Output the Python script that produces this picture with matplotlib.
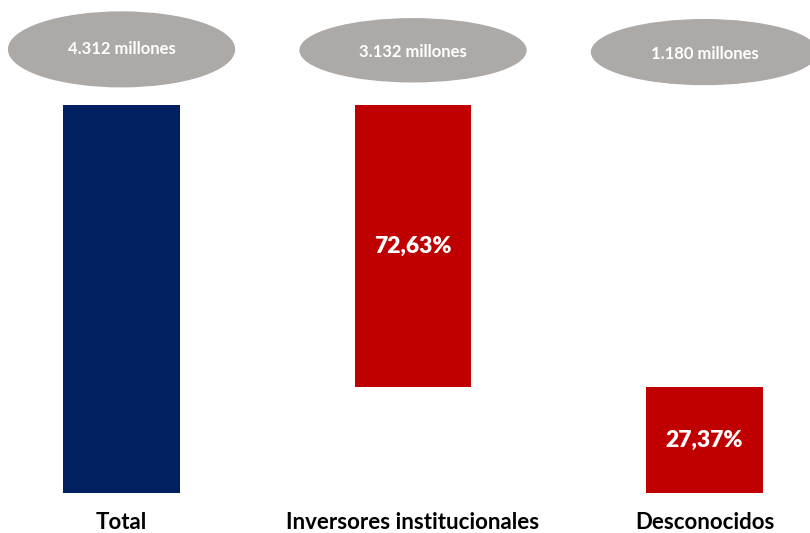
import matplotlib.pyplot as plt
from matplotlib.patches import Ellipse

plt.rcParams['font.family'] = ['Lato', 'DejaVu Sans']

categories = ["Total", "Inversores institucionales", "Desconocidos"]
values = [4312, 3132, 1180]          # millones
value_labels = ["4.312 millones", "3.132 millones", "1.180 millones"]

navy = "#002060"
red = "#C00000"
grey = "#ADA9A7"

total = values[0]
bottoms = [0, total - values[1], 0]
colors = [navy, red, red]

fig = plt.figure(figsize=(8.1, 5.33), dpi=100)
ax = fig.add_axes([0, 40 / 533, 1, 493 / 533])

x = list(range(len(categories)))
ax.bar(x, values, bottom=bottoms, width=0.40, color=colors)

# percentage labels inside the red bars
for i in (1, 2):
    pct = values[i] / total * 100
    txt = f"{pct:.2f}%".replace(".", ",")
    ax.text(i, bottoms[i] + values[i] / 2, txt, ha="center", va="center",
            color="white", fontsize=16.5, fontweight="heavy")

# grey ellipses with the amounts
ell_y = [4930, 4920, 4900]
ell_h = [830, 700, 720]
txt_y = [4935, 4900, 4880]
for i, lab in enumerate(value_labels):
    e = Ellipse((x[i], ell_y[i]), width=0.775, height=ell_h[i], color=grey,
                clip_on=False)
    ax.add_patch(e)
    ax.text(x[i], txt_y[i], lab, ha="center", va="center", color="white",
            fontsize=12, fontweight="bold")

ax.set_xlim(-0.417, 2.362)
ax.set_ylim(0, total * 493 / 388)
ax.set_xticks(x)
ax.set_xticklabels(categories, fontsize=16, fontweight="bold")
ax.tick_params(axis="x", length=0, pad=13.5)
ax.set_yticks([])
for s in ax.spines.values():
    s.set_visible(False)

fig.savefig("out.png", dpi=100)
